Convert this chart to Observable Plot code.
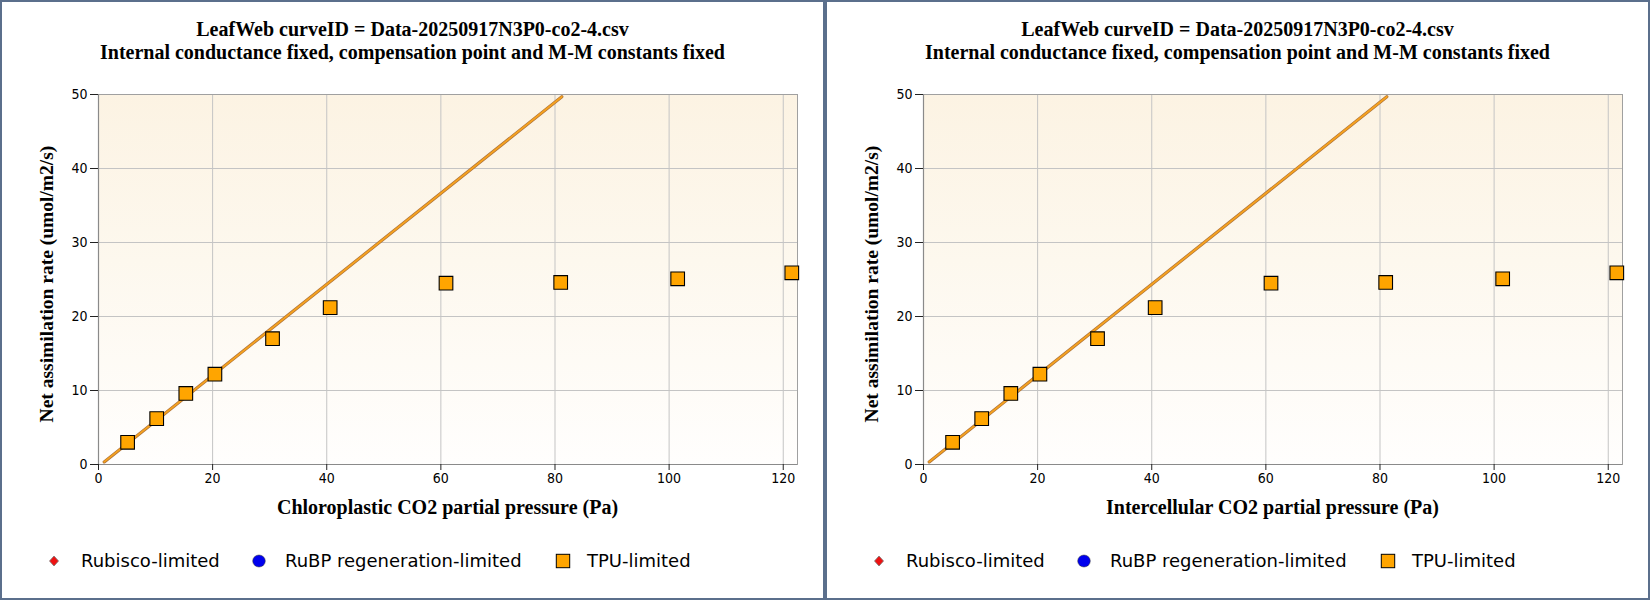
<!DOCTYPE html>
<html>
<head>
<meta charset="utf-8">
<script src="https://cdn.jsdelivr.net/npm/d3@7"></script>
<script src="https://cdn.jsdelivr.net/npm/@observablehq/plot@0.6"></script>
<style>
  html, body { margin: 0; padding: 0; background: #fff; }
  #wrap { display: flex; width: 1650px; height: 600px; }
  .panel { position: relative; width: 825px; height: 600px; box-sizing: border-box; border: 2px solid #5b6f8c; background: #fff; overflow: hidden; }
  .title { position: absolute; left: 0; width: 821px; top: 16px; text-align: center; font-family: "Liberation Serif", "Times New Roman", serif; font-weight: bold; font-size: 20px; line-height: 23px; color: #000; }
  .plotbox { position: absolute; left: 0; top: 72px; }
  .xtitle { position: absolute; left: 96px; width: 699px; top: 493px; text-align: center; font-family: "Liberation Serif", "Times New Roman", serif; font-weight: bold; font-size: 20px; line-height: 24px; color: #000; }
  .ytitle { position: absolute; left: 45px; top: 282px; transform: translate(-50%, -50%) rotate(-90deg); white-space: nowrap; font-family: "Liberation Serif", "Times New Roman", serif; font-weight: bold; font-size: 19.5px; line-height: 22px; color: #000; }
  .leg { position: absolute; top: 548px; height: 22px; line-height: 22px; font-family: "DejaVu Sans", sans-serif; font-size: 18px; color: #000; white-space: nowrap; }
  .legsym { position: absolute; top: 548px; }
</style>
</head>
<body>
<div id="wrap"></div>
<script>
// ---- data ----
const co2 = [5.1, 10.2, 15.3, 20.4, 30.5, 40.6, 60.9, 81.0, 101.5, 121.5];
const anet = [3.0, 6.2, 9.6, 12.2, 17.0, 21.2, 24.5, 24.6, 25.1, 25.9];
const fitX = [1.0, 81.2];
const fitY = [0.35, 49.7];
const xTicks = [0, 20, 40, 60, 80, 100, 120];
const yTicks = [0, 10, 20, 30, 40, 50];
const titleLines = ["LeafWeb curveID = Data-20250917N3P0-co2-4.csv",
                    "Internal conductance fixed, compensation point and M-M constants fixed"];
const xLabels = ["Chloroplastic CO2 partial pressure (Pa)", "Intercellular CO2 partial pressure (Pa)"];
const yLabel = "Net assimilation rate (umol/m2/s)";
const legendNames = ["Rubisco-limited", "RuBP regeneration-limited", "TPU-limited"];

const points = co2.map((x, i) => ({x, y: anet[i]}));
const fit = fitX.map((x, i) => ({x, y: fitY[i]}));

const wrap = document.getElementById("wrap");

function makePanel(idx) {
  const panel = document.createElement("div");
  panel.className = "panel";
  wrap.appendChild(panel);

  const t = document.createElement("div");
  t.className = "title";
  t.innerHTML = titleLines.map(s => `<div>${s}</div>`).join("");
  panel.appendChild(t);

  const gid = "bg" + idx;
  const svg = Plot.plot({
    width: 821,
    height: 460,
    marginTop: 20,
    marginLeft: 96,
    marginRight: 26,
    marginBottom: 70,
    style: {fontFamily: "'DejaVu Sans Condensed', 'DejaVu Sans', sans-serif", fontSize: "14px", color: "#000", background: "transparent"},
    x: {domain: [0, 122.5]},
    y: {domain: [0, 50]},
    marks: [
      Plot.frame({fill: `url(#${gid})`, stroke: "none"}),
      Plot.gridX(xTicks, {stroke: "#c4c4c4", strokeOpacity: 1}),
      Plot.gridY(yTicks, {stroke: "#c4c4c4", strokeOpacity: 1}),
      Plot.frame({stroke: "#a0a0a0", anchor: "top"}),
      Plot.frame({stroke: "#a0a0a0", anchor: "right"}),
      Plot.ruleX([0], {stroke: "#8a8a8a", strokeWidth: 1.2}),
      Plot.ruleY([0], {stroke: "#8a8a8a", strokeWidth: 1.2}),
      Plot.axisX({ticks: xTicks, tickSize: 6, tickPadding: 3, label: null, stroke: "#222"}),
      Plot.axisY({ticks: yTicks, tickSize: 8, tickPadding: 3, label: null, stroke: "#222"}),
      Plot.line(fit, {x: "x", y: "y", stroke: "#b0753c", strokeWidth: 3.2}),
      Plot.line(fit, {x: "x", y: "y", stroke: "#f6a21e", strokeWidth: 1.8}),
      Plot.dot(points, {x: "x", y: "y", symbol: "square", r: 7.7, fill: "#ffa500", stroke: "#000", strokeWidth: 1.1})
    ]
  });
  d3.select(svg).insert("defs", ":first-child").html(
    `<linearGradient id="${gid}" x1="0" y1="0" x2="0" y2="1">
       <stop offset="0" stop-color="#fcf3e3"/>
       <stop offset="0.45" stop-color="#fdf8ee"/>
       <stop offset="1" stop-color="#fffefd"/>
     </linearGradient>`);
  const box = document.createElement("div");
  box.className = "plotbox";
  box.appendChild(svg);
  panel.appendChild(box);

  const xt = document.createElement("div");
  xt.className = "xtitle";
  xt.textContent = xLabels[idx];
  panel.appendChild(xt);

  const yt = document.createElement("div");
  yt.className = "ytitle";
  yt.textContent = yLabel;
  panel.appendChild(yt);

  // legend
  const symX = [52, 257, 560.5];
  const txtX = [79, 283, 585];
  const syms = [
    `<svg width="22" height="22"><path d="M11,6 L15.5,11 L11,16 L6.5,11 Z" fill="#ee1111" stroke="#777" stroke-width="0.8"/></svg>`,
    `<svg width="22" height="22"><ellipse cx="11" cy="11" rx="6.3" ry="6" fill="#0000ee" stroke="#333" stroke-width="0.5"/></svg>`,
    `<svg width="22" height="22"><rect x="4.3" y="4.3" width="13.4" height="13.4" fill="#ffa500" stroke="#000" stroke-width="1"/></svg>`
  ];
  legendNames.forEach((name, i) => {
    const s = document.createElement("div");
    s.className = "legsym";
    s.style.left = (symX[i] - 11) + "px";
    s.innerHTML = syms[i];
    panel.appendChild(s);
    const l = document.createElement("div");
    l.className = "leg";
    l.style.left = txtX[i] + "px";
    l.textContent = name;
    panel.appendChild(l);
  });
}

makePanel(0);
makePanel(1);
</script>
</body>
</html>
